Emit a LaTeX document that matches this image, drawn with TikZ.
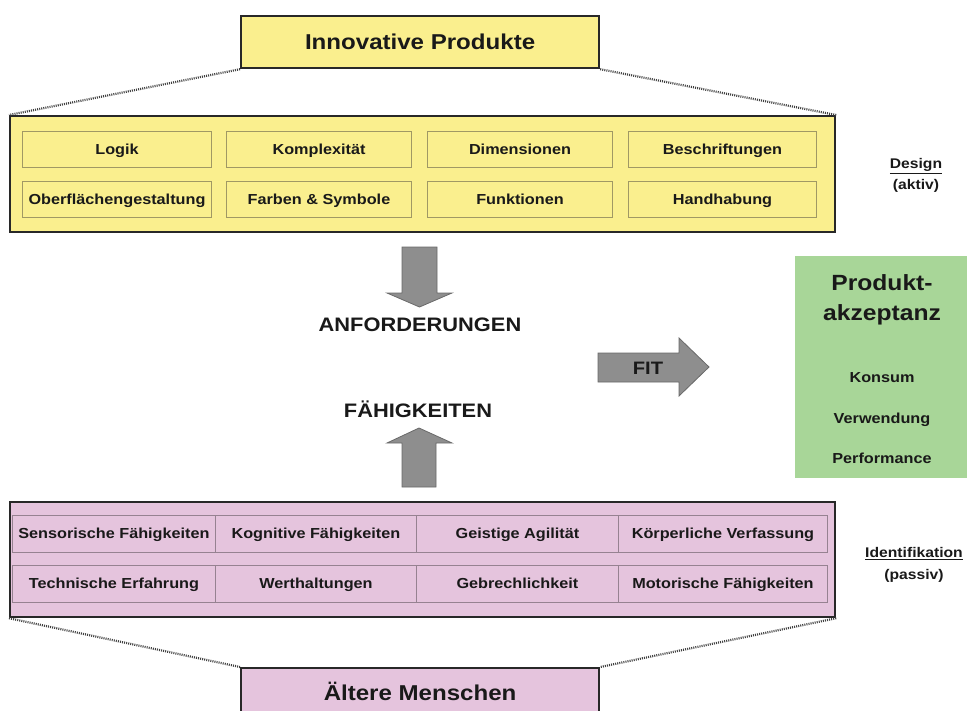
\documentclass[tikz,border=0pt]{standalone}
\usepackage{fontspec}
\newfontfamily\af{Liberation Sans}[FakeStretch=1.12]
\definecolor{yfill}{RGB}{250,239,142}
\definecolor{ycell}{RGB}{160,152,100}
\definecolor{pfill}{RGB}{229,196,221}
\definecolor{pcell}{RGB}{150,130,145}
\definecolor{gfill}{RGB}{168,214,152}
\definecolor{agray}{RGB}{142,142,142}
\definecolor{aedge}{RGB}{105,105,105}
\definecolor{bedge}{RGB}{40,40,40}
\definecolor{txt}{RGB}{25,25,25}
\tikzset{
  every node/.style={font=\af\bfseries, text=txt, inner sep=0pt},
  sz145/.style={font=\af\bfseries\fontsize{14.5}{16}\selectfont, text height=13pt, text depth=3pt},
  bigbox/.style={draw=bedge, line width=2.2pt, rectangle},
  ycellbox/.style={draw=ycell, line width=1pt, fill=yfill, sz145},
  pcellbox/.style={draw=pcell, line width=0.9pt, fill=pfill, sz145},
  dotline/.style={draw=black!75, line width=2.2pt, dash pattern=on 1pt off 1.1pt},
  blockarrow/.style={fill=agray, draw=aedge, line width=0.8pt},
  bigtext/.style={font=\af\bfseries\fontsize{21.5}{24}\selectfont, text height=19pt, text depth=4.5pt},
  midtext/.style={font=\af\bfseries\fontsize{19.5}{22}\selectfont, text height=17.5pt, text depth=4pt},
  sidetext/.style={font=\af\bfseries\fontsize{14}{16}\selectfont, text height=12pt, text depth=3pt},
  greentext/.style={sz145},
  accepttext/.style={font=\af\bfseries\fontsize{22}{24}\selectfont, text height=19.5pt, text depth=4.6pt},
  fittext/.style={font=\af\bfseries\fontsize{18}{20}\selectfont, text height=16pt, text depth=3.8pt},
}
\begin{document}
\begin{tikzpicture}[x=1pt,y=-1pt]
\useasboundingbox (0,0) rectangle (967,710);
\fill[white] (0,0) rectangle (967,710);

% top title box
\node[bigbox, fill=yfill, minimum width=358pt, minimum height=52pt, anchor=north west, bigtext] (top) at (240,15) {Innovative Produkte};
% big yellow box
\node[bigbox, fill=yfill, minimum width=825pt, minimum height=116pt, anchor=north west] (ybox) at (9,115) {};
\draw[dotline] (top.south west) -- (ybox.north west);
\draw[dotline] (top.south east) -- (ybox.north east);

% yellow cells
\node[ycellbox, minimum width=189pt, minimum height=36pt, anchor=north west] (y11) at (22,131) {Logik};
\node[ycellbox, minimum width=185pt, minimum height=36pt, anchor=north west] (y12) at (226,131) {Komplexität};
\node[ycellbox, minimum width=185pt, minimum height=36pt, anchor=north west] (y13) at (427,131) {Dimensionen};
\node[ycellbox, minimum width=188pt, minimum height=36pt, anchor=north west] (y14) at (628,131) {Beschriftungen};
\node[ycellbox, minimum width=189pt, minimum height=36pt, anchor=north west] (y21) at (22,181) {Oberflächengestaltung};
\node[ycellbox, minimum width=185pt, minimum height=36pt, anchor=north west] (y22) at (226,181) {Farben \& Symbole};
\node[ycellbox, minimum width=185pt, minimum height=36pt, anchor=north west] (y23) at (427,181) {Funktionen};
\node[ycellbox, minimum width=188pt, minimum height=36pt, anchor=north west] (y24) at (628,181) {Handhabung};

% side labels
\node[sidetext] (design) at (916,164) {\underline{Design}};
\node[sidetext] (aktiv) at (916,185) {(aktiv)};

% down arrow
\draw[blockarrow] (402,247) -- (437,247) -- (437,293) -- (452,293) -- (419.5,307) -- (387,293) -- (402,293) -- cycle;
\node[midtext] (anf) at (420,325) {ANFORDERUNGEN};
\node[midtext] (faeh) at (418,411) {FÄHIGKEITEN};
% up arrow
\draw[blockarrow] (402,487) -- (436,487) -- (436,443) -- (452,443) -- (419,428) -- (387,443) -- (402,443) -- cycle;

% FIT arrow
\draw[blockarrow] (598,353) -- (679,353) -- (679,338) -- (709,367) -- (679,396) -- (679,382) -- (598,382) -- cycle;
\node[fittext] (fit) at (648,368) {FIT};

% green box
\fill[gfill] (795,256) rectangle (967,478);
\node[accepttext] (prod) at (882,283) {Produkt-};
\node[accepttext] (akz) at (882,313) {akzeptanz};
\node[greentext] (kons) at (882,377) {Konsum};
\node[greentext] (verw) at (882,418) {Verwendung};
\node[greentext] (perf) at (882,458) {Performance};

% big pink box
\node[bigbox, fill=pfill, minimum width=825pt, minimum height=115pt, anchor=north west] (pbox) at (9,501) {};
\node[pcellbox, minimum width=203pt, minimum height=37pt, anchor=north west] (p11) at (12,515) {Sensorische Fähigkeiten};
\node[pcellbox, minimum width=201pt, minimum height=37pt, anchor=north west] (p12) at (215,515) {Kognitive Fähigkeiten};
\node[pcellbox, minimum width=202pt, minimum height=37pt, anchor=north west] (p13) at (416,515) {Geistige Agilität};
\node[pcellbox, minimum width=209pt, minimum height=37pt, anchor=north west] (p14) at (618,515) {Körperliche Verfassung};
\node[pcellbox, minimum width=203pt, minimum height=37pt, anchor=north west] (p21) at (12,565) {Technische Erfahrung};
\node[pcellbox, minimum width=201pt, minimum height=37pt, anchor=north west] (p22) at (215,565) {Werthaltungen};
\node[pcellbox, minimum width=202pt, minimum height=37pt, anchor=north west] (p23) at (416,565) {Gebrechlichkeit};
\node[pcellbox, minimum width=209pt, minimum height=37pt, anchor=north west] (p24) at (618,565) {Motorische Fähigkeiten};

\node[sidetext] (ident) at (914,553) {\underline{Identifikation}};
\node[sidetext] (passiv) at (914,575) {(passiv)};

% bottom title box
\node[bigbox, fill=pfill, minimum width=358pt, minimum height=50pt, anchor=north west, bigtext] (bot) at (240,667) {Ältere Menschen};
\draw[dotline] (pbox.south west) -- (bot.north west);
\draw[dotline] (pbox.south east) -- (bot.north east);
\end{tikzpicture}
\end{document}
